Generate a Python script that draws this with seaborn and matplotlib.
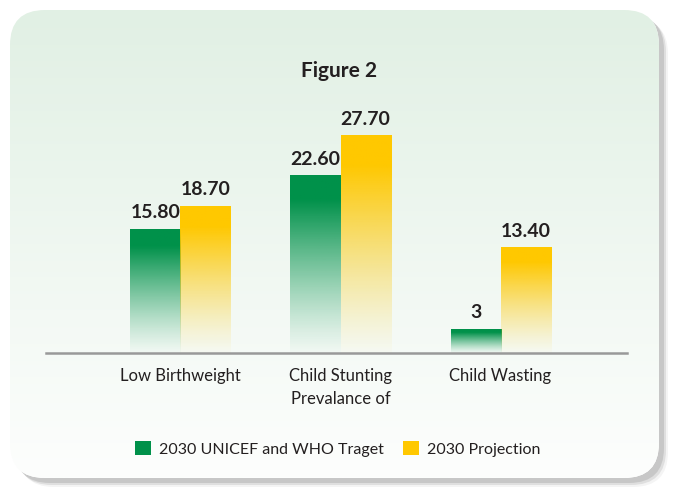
import numpy as np
import pandas as pd
import seaborn as sb
import matplotlib.pyplot as plt
from matplotlib.patches import FancyBboxPatch, Patch
from matplotlib.colors import to_rgb

categories = ["Low Birthweight", "Child Stunting\nPrevalance of", "Child Wasting"]
series = ["2030 UNICEF and WHO Traget", "2030 Projection"]
target_values = [15.80, 22.60, 3]
projection_values = [18.70, 27.70, 13.40]
target_labels = ["15.80", "22.60", "3"]
projection_labels = ["18.70", "27.70", "13.40"]

GREEN = "#00914a"
YELLOW = "#ffc800"
TEXT = "#231f20"

sb.set_style("white")
plt.rcParams['font.family'] = ['Lato', 'DejaVu Sans']

df = pd.DataFrame({
    "category": categories * 2,
    "series": [series[0]] * 3 + [series[1]] * 3,
    "value": target_values + projection_values,
})

fig = plt.figure(figsize=(6.79, 4.88), dpi=100)
fig.patch.set_facecolor("white")

# background panel with shadow
bg = fig.add_axes([0, 0, 1, 1])
bg.set_xlim(0, 679)
bg.set_ylim(488, 0)
bg.axis("off")
for off, a in [(9, 0.15), (7, 0.35), (5, 0.6)]:
    bg.add_patch(FancyBboxPatch((10 + off, 10 + off), 649, 468,
                                boxstyle="round,pad=0,rounding_size=35",
                                fc="#b8b8b8", ec="none", alpha=a))
panel = FancyBboxPatch((10, 10), 649, 468, boxstyle="round,pad=0,rounding_size=35",
                       fc="white", ec="none")
bg.add_patch(panel)
top_c = np.array(to_rgb("#e1f0e4"))
bot_c = np.array(to_rgb("#fdfefd"))
t = np.linspace(0, 1, 200)[:, None, None]
grad = top_c * (1 - t) + bot_c * t
im = bg.imshow(grad, extent=(10, 659, 478, 10), aspect="auto", zorder=2)
im.set_clip_path(panel)

bg.text(339, 71, "Figure 2", ha="center", va="center", fontsize=15,
        fontweight="bold", color=TEXT, zorder=3)

# main chart
ax = fig.add_axes([46 / 679, 135 / 488, (627 - 46) / 679, (353 - 110) / 488])
ax.set_facecolor("none")
sb.barplot(data=df, x="category", y="value", hue="series", palette=[GREEN, YELLOW],
           width=0.625, gap=0, ax=ax, legend=False, saturation=1)

for container, col, labels in zip(ax.containers, [GREEN, YELLOW],
                                  [target_labels, projection_labels]):
    c = np.array(to_rgb(col))
    for p in container.patches:
        x0, w, h = p.get_x(), p.get_width(), p.get_height()
        p.set_facecolor("none")
        p.set_edgecolor("none")
        s = np.linspace(0, 1, 100)[:, None]
        alpha = np.clip(1.15 - 1.1 * s, 0, 1) ** 1.3
        img = np.zeros((100, 1, 4))
        img[:, 0, :3] = c
        img[:, 0, 3] = alpha[:, 0]
        ax.imshow(img, extent=(x0, x0 + w, 0, h), aspect="auto", origin="upper",
                  zorder=2)
    ax.bar_label(container, labels=labels, padding=6, fontsize=14,
                 fontweight="bold", color=TEXT)

ax.set_xlim(-0.84, 2.79)
ax.set_ylim(0, 31)
ax.set_xlabel("")
ax.set_ylabel("")
ax.set_yticks([])
ax.set_xticks(range(3))
ax.set_xticklabels(categories, fontsize=12, color=TEXT, linespacing=1.55)
ax.tick_params(axis="x", length=0, pad=11)
for s in ["top", "left", "right"]:
    ax.spines[s].set_visible(False)
ax.spines["bottom"].set_color("#999999")
ax.spines["bottom"].set_linewidth(1.8)
ax.spines["bottom"].set_zorder(5)

handles = [Patch(facecolor=GREEN, edgecolor="none"), Patch(facecolor=YELLOW, edgecolor="none")]
fig.legend(handles, series, loc="center", bbox_to_anchor=(338 / 679, 1 - 449 / 488),
           ncol=2, frameon=False, fontsize=11.5, handlelength=1.0, handleheight=1.0,
           handletextpad=0.5, columnspacing=1.2, labelcolor=TEXT)

plt.savefig("out.png", dpi=100)
